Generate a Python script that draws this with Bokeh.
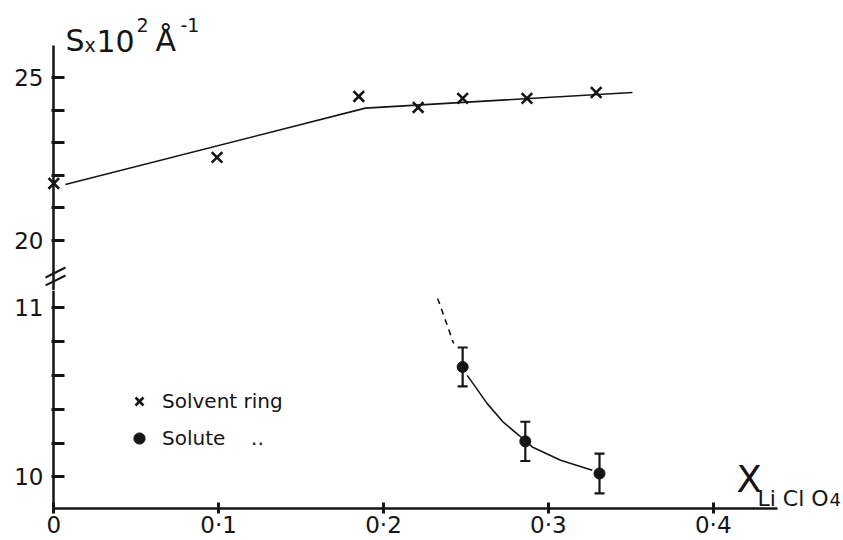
from bokeh.plotting import figure
from bokeh.models import (ColumnDataSource, FixedTicker, CustomJSTickFormatter, Label,
                          Arrow, Whisker, TeeHead, Legend, LegendItem, Range1d, LinearAxis)
from bokeh.layouts import column
from bokeh.embed import file_html
from bokeh.resources import INLINE

# ---------------- data ----------------
solvent_x = [0.0, 0.099, 0.185, 0.221, 0.248, 0.287, 0.329]
solvent_y = [21.75, 22.55, 24.42, 24.08, 24.36, 24.36, 24.54]
solvent_fit_x = [0.007, 0.189, 0.351]
solvent_fit_y = [21.72, 24.06, 24.54]

solute_x = [0.248, 0.286, 0.331]
solute_y = [10.65, 10.21, 10.02]
solute_err = [0.115, 0.116, 0.118]
solute_fit_x = [0.2508, 0.2629, 0.2728, 0.2821, 0.2902, 0.3074, 0.3266]
solute_fit_y = [10.600, 10.433, 10.322, 10.246, 10.177, 10.098, 10.039]
solute_dash_x = [0.2328, 0.2376, 0.2425]
solute_dash_y = [11.055, 10.925, 10.789]

x_ticks = [0.0, 0.1, 0.2, 0.3, 0.4]
x_axis_end = 0.4388
upper_major = [20, 25]
upper_minor = [21, 22, 23, 24]
upper_axis_top = 25.98
lower_major = [10, 11]
lower_minor = [10.2, 10.4, 10.6, 10.8]

FONT = "DejaVu Sans"
INK = "#151515"
W = 843
LEFT = 44

xr = Range1d(-0.00564, 0.4790)


def style_yaxes(p, major, minor, bounds):
    # axis 1 (default, at the frame edge): tick labels only
    lab = p.yaxis[0]
    lab.ticker = FixedTicker(ticks=major)
    lab.axis_line_color = None
    lab.major_tick_line_color = None
    lab.minor_tick_line_color = None
    lab.major_tick_in = 0
    lab.major_tick_out = 0
    lab.major_label_text_font = FONT
    lab.major_label_text_font_size = "23px"
    lab.major_label_text_color = INK
    lab.major_label_standoff = 1
    # axis 2: line and ticks drawn at x = 0
    ax = LinearAxis(fixed_location=0, bounds=bounds,
                    ticker=FixedTicker(ticks=major, minor_ticks=minor),
                    formatter=CustomJSTickFormatter(code="return '';"))
    ax.axis_line_width = 2.5
    ax.axis_line_color = INK
    ax.major_tick_in = 11
    ax.major_tick_out = 2
    ax.minor_tick_in = 11
    ax.minor_tick_out = 2
    ax.major_tick_line_width = 3
    ax.minor_tick_line_width = 3
    ax.major_tick_line_color = INK
    ax.minor_tick_line_color = INK
    ax.major_label_standoff = 0
    p.add_layout(ax, "left")


def lbl(p, x, y, text, size):
    # y is the wanted baseline (screen px above the frame bottom); compensate the
    # renderer's downward offset of about 0.43 em
    p.add_layout(Label(x=x, y=y + 0.43 * size, x_units="screen", y_units="screen",
                       text=text, text_font=FONT, text_font_size=f"{size}px",
                       text_color=INK, text_baseline="alphabetic"))


# ---------------- upper panel (solvent ring) ----------------
p1 = figure(width=W, height=290, x_range=xr, y_range=Range1d(18.466, 27.362),
            output_backend="svg", toolbar_location=None,
            min_border_left=LEFT, min_border_right=0,
            min_border_top=0, min_border_bottom=0)
p1.xaxis.visible = False
p1.grid.visible = False
p1.outline_line_color = None
style_yaxes(p1, upper_major, upper_minor, (18.0, upper_axis_top))

src_solv = ColumnDataSource(dict(x=solvent_x, y=solvent_y))
p1.line(solvent_fit_x, solvent_fit_y, line_color=INK, line_width=1.6)
p1.scatter("x", "y", source=src_solv, marker="x", size=15, line_width=2.6,
           line_color=INK)

# axis break marks
for ys, ye in [(18.865, 19.172), (18.620, 18.926)]:
    p1.add_layout(Arrow(end=None, x_start=-0.0050, y_start=ys, x_end=0.0071, y_end=ye,
                        line_width=2, line_color=INK))

# y-axis title  S x 10^2 Å^-1   (baselines: 53 px and 33 px from the top)
lbl(p1, 21, 290 - 53, "S", 30)
lbl(p1, 40, 290 - 53, "x", 19)
lbl(p1, 52, 290 - 53, "10", 30)
lbl(p1, 92, 290 - 33, "2", 19)
lbl(p1, 111, 290 - 53, "Å", 30)
lbl(p1, 136, 290 - 33, "-1", 19)

# ---------------- lower panel (solute) ----------------
p2 = figure(width=W, height=250, x_range=xr, y_range=Range1d(9.813, 11.102),
            output_backend="svg", toolbar_location=None,
            min_border_left=LEFT, min_border_right=0,
            min_border_top=0, min_border_bottom=32)
p2.grid.visible = False
p2.outline_line_color = None
style_yaxes(p2, lower_major, lower_minor, (9.0, 11.102))

xa = p2.xaxis[0]
xa.bounds = (0, x_axis_end)
xa.ticker = FixedTicker(ticks=x_ticks)
xa.formatter = CustomJSTickFormatter(
    code="return tick == 0 ? '0' : tick.toFixed(1).replace('.', '\u00b7');")
xa.axis_line_width = 2.5
xa.axis_line_color = INK
xa.major_tick_in = 6
xa.major_tick_out = 5
xa.major_tick_line_width = 3
xa.major_tick_line_color = INK
xa.minor_tick_line_color = None
xa.major_label_text_font = FONT
xa.major_label_text_font_size = "23px"
xa.major_label_text_color = INK
xa.major_label_standoff = -2

src_sol = ColumnDataSource(dict(x=solute_x, y=solute_y,
                                lo=[v - e for v, e in zip(solute_y, solute_err)],
                                hi=[v + e for v, e in zip(solute_y, solute_err)]))
p2.line(solute_dash_x, solute_dash_y, line_color=INK, line_width=1.6, line_dash="6 5")
p2.line(solute_fit_x, solute_fit_y, line_color=INK, line_width=1.6)
p2.add_layout(Whisker(source=src_sol, base="x", upper="hi", lower="lo",
                      dimension="height", line_color=INK, line_width=2.2,
                      upper_head=TeeHead(size=10, line_width=2.2, line_color=INK),
                      lower_head=TeeHead(size=10, line_width=2.2, line_color=INK)))
r_sol = p2.scatter("x", "y", source=src_sol, marker="circle", size=11,
                   fill_color=INK, line_color=INK)

# legend key for the solvent marker (placed outside the visible range)
r_leg_solv = p2.scatter(x=[-1.0], y=[10.5], marker="x", size=15, line_width=2.6,
                        line_color=INK)

legend = Legend(items=[LegendItem(label="Solvent ring", renderers=[r_leg_solv]),
                       LegendItem(label="Solute    \u2025", renderers=[r_sol])],
                location=(81, 56), padding=0, margin=0, spacing=9,
                glyph_width=28, glyph_height=28, label_height=20, label_standoff=9,
                label_text_font=FONT, label_text_font_size="20px",
                label_text_color=INK, border_line_color=None,
                background_fill_alpha=0)
p2.add_layout(legend)

# x-axis title  X_{Li Cl O4}   (frame bottom is the x axis at ~508 px)
lbl(p2, 692, 508 - 495, "X", 37)
lbl(p2, 713, 508 - 507, "Li Cl O", 22)
lbl(p2, 785, 508 - 507, "4", 18)

layout = column(p1, p2, spacing=0)
open("out.html", "w").write(file_html(layout, INLINE))
